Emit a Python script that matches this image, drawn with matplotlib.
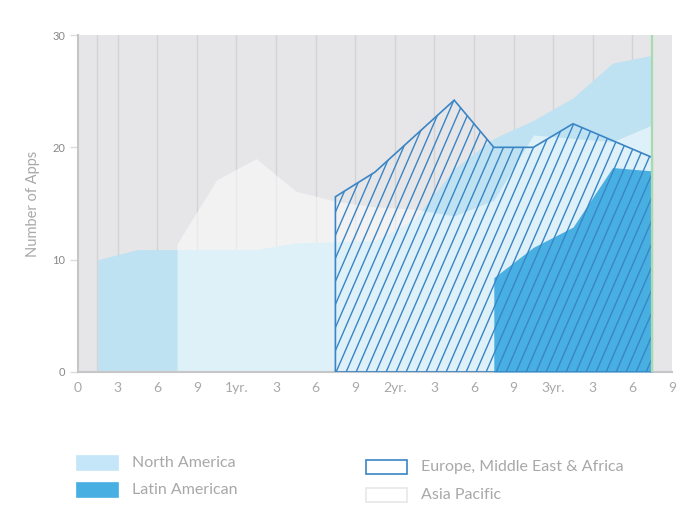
import matplotlib
matplotlib.use("Agg")
import matplotlib.pyplot as plt
import numpy as np
from matplotlib.patches import Polygon, Rectangle
from matplotlib.collections import LineCollection

plt.rcParams['font.family'] = ['Lato', 'DejaVu Sans']

# quarter mid-points (months)
months = [1.5, 4.5, 7.5, 10.5, 13.5, 16.5, 19.5, 22.5, 25.5, 28.5, 31.5, 34.5, 37.5, 40.5, 43.5]

north_america = [10.0, 10.9, 10.9, 10.9, 10.9, 11.5, 11.6, 11.7, 13.6, 18.1, 20.8, 22.4, 24.4, 27.5, 28.2]
asia_pacific = [None, None, 11.4, 17.1, 19.0, 16.1, 15.2, 14.7, 14.5, 13.9, 15.3, 21.1, 20.8, 20.5, 22.0]
emea = [None] * 6 + [15.6, 17.8, 21.0, 24.2, 20.0, 20.0, 22.1, 20.6, 19.1]
latin_american = [None] * 10 + [8.4, 11.1, 12.9, 18.2, 17.9]

tick_pos = [0, 3, 6, 9, 12, 15, 18, 21, 24, 27, 30, 33, 36, 39, 42, 45]
tick_labels = ['0', '3', '6', '9', '1yr.', '3', '6', '9', '2yr.', '3', '6', '9', '3yr.', '3', '6', '9']
y_ticks = [0, 10, 20, 30]

BG = '#e6e6e8'
NA_C = '#bee2f2'
LA_C = '#48afe2'
EM_C = '#3a85c6'
TXT = '#a8a8a8'


def series(vals):
    x = [m for m, v in zip(months, vals) if v is not None]
    y = [v for v in vals if v is not None]
    return np.array(x), np.array(y)


fig = plt.figure(figsize=(7, 5.24), dpi=100)
ax = fig.add_axes([78 / 700, 1 - 372 / 524, (672 - 78) / 700, (372 - 35) / 524])
ax.set_facecolor(BG)
ax.set_xlim(0, 45)
ax.set_ylim(0, 30)

# grid lines
for gx in [1.45] + tick_pos[1:-1]:
    ax.axvline(gx, color='#d3d3d6', lw=1.0, zorder=0.5)

x, y = series(north_america)
ax.fill_between(x, 0, y, color=NA_C, lw=0, zorder=1)

x, y = series(asia_pacific)
ax.fill_between(x, 0, y, color='white', alpha=0.5, lw=0, zorder=2)

x, y = series(latin_american)
ax.fill_between(x, 0, y, color=LA_C, lw=0, zorder=3)

x, y = series(emea)
verts = [(x[0], 0)] + list(zip(x, y)) + [(x[-1], 0)]
poly = Polygon(verts, closed=True, fill=False, edgecolor=EM_C, lw=1.2, zorder=5)
ax.add_patch(poly)
# hatch lines clipped to the EMEA shape
slope = 2.3 * (13.2 / 11.2)
step = 10 / 13.2
segs = []
x0 = x[0] - 30 / slope - 1
while x0 < x[-1] + 1:
    segs.append([(x0, 0), (x0 + 30 / slope, 30)])
    x0 += step
lc = LineCollection(segs, colors=EM_C, linewidths=1.0, zorder=4)
ax.add_collection(lc)
lc.set_clip_path(poly)

# current marker
ax.axvline(43.5, color='#a6dbb0', lw=1.6, zorder=6)

# axes styling
for s in ['top', 'right']:
    ax.spines[s].set_visible(False)
ax.spines['left'].set_color('#c6c6c8')
ax.spines['left'].set_linewidth(1.5)
ax.spines['bottom'].set_color('#c6c6c8')
ax.spines['bottom'].set_linewidth(1.5)

ax.set_xticks(tick_pos)
ax.set_xticklabels(tick_labels)
ax.tick_params(axis='x', length=0, pad=7, labelsize=10, labelcolor=TXT)
ax.set_yticks(y_ticks)
ax.tick_params(axis='y', length=6, width=1, color='#dcdcdc', pad=3, labelsize=8, labelcolor='#888888')
ax.set_ylabel('Number of Apps', color=TXT, fontsize=10.5, labelpad=9)

# legend
def legend_item(px, py, label, face, edge):
    fig.patches.append(Rectangle((px / 700, 1 - (py + 14) / 524), 41 / 700, 14 / 524,
                                 transform=fig.transFigure, facecolor=face, edgecolor=edge, lw=1.2))
    fig.text((px + 55) / 700, 1 - (py + 7) / 524, label, color=TXT, fontsize=11.5, va='center', ha='left')

legend_item(77, 456, 'North America', '#c4e6f8', '#c4e6f8')
legend_item(77, 483, 'Latin American', LA_C, LA_C)
legend_item(366, 460, 'Europe, Middle East & Africa', 'white', EM_C)
legend_item(366, 488, 'Asia Pacific', 'white', '#e8e8e8')

fig.savefig('out.png', dpi=100, facecolor='white')
